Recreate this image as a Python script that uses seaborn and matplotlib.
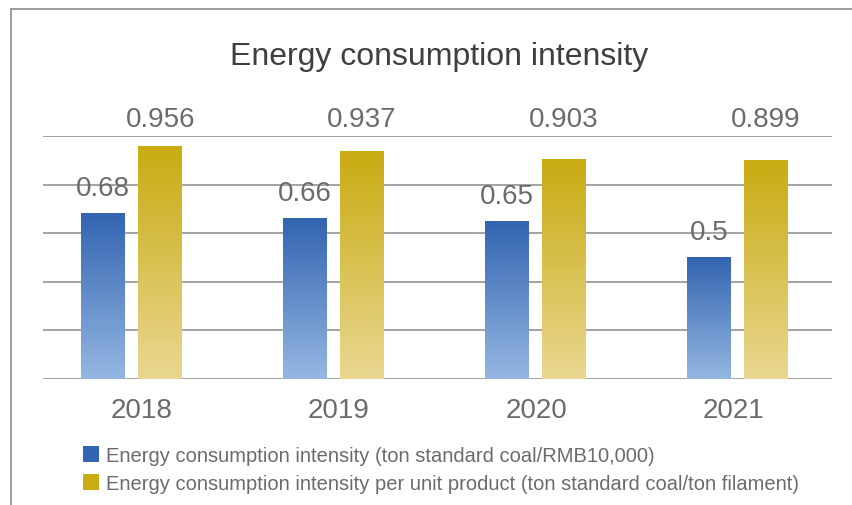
import matplotlib

matplotlib.use("Agg")
import matplotlib.pyplot as plt
import numpy as np
import pandas as pd
import seaborn as sns
from matplotlib.colors import LinearSegmentedColormap
from matplotlib.lines import Line2D
from matplotlib.patches import Patch

# ---- data
years = ["2018", "2019", "2020", "2021"]
intensity = [0.68, 0.66, 0.65, 0.5]
per_unit = [0.956, 0.937, 0.903, 0.899]
intensity_labels = ["0.68", "0.66", "0.65", "0.5"]
per_unit_labels = ["0.956", "0.937", "0.903", "0.899"]
series_names = [
    "Energy consumption intensity (ton standard coal/RMB10,000)",
    "Energy consumption intensity per unit product (ton standard coal/ton filament)",
]

df = pd.DataFrame({
    "year": years * 2,
    "value": intensity + per_unit,
    "series": [series_names[0]] * 4 + [series_names[1]] * 4,
})

sns.set_theme(style="white")
plt.rcParams["font.family"] = ["Liberation Sans", "DejaVu Sans"]

BLUE_TOP, BLUE_BOT = "#3264b0", "#95b7e2"
GOLD_TOP, GOLD_BOT = "#c9ab12", "#e9d791"
TEXT_GREY = "#6b6b6b"
GRID_GREY = "#9c9c9c"
XLIM = (-0.44, 3.47)

fig = plt.figure(figsize=(8.52, 5.06), dpi=100)
ax = fig.add_axes([0.0505, 0.249, 0.926, 0.48])

sns.barplot(data=df, x="year", y="value", hue="series", ax=ax,
            palette=[BLUE_TOP, GOLD_TOP], width=0.564, gap=0.227,
            legend=False, zorder=3)

# ---- gradient fill on each bar
grad = np.linspace(0, 1, 256).reshape(-1, 1)
cmaps = [LinearSegmentedColormap.from_list("b", [BLUE_BOT, BLUE_TOP]),
         LinearSegmentedColormap.from_list("g", [GOLD_BOT, GOLD_TOP])]
containers = ax.containers
for cont, cmap in zip(containers, cmaps):
    for bar in cont:
        x0, w, h = bar.get_x(), bar.get_width(), bar.get_height()
        bar.set_facecolor("none")
        bar.set_edgecolor("none")
        ax.imshow(grad, extent=[x0, x0 + w, 0, h], origin="lower",
                  cmap=cmap, aspect="auto", zorder=3)

ax.set_xlim(*XLIM)
ax.set_ylim(0, 1.0)
ax.set_yticks(np.arange(0, 1.01, 0.2))
ax.yaxis.grid(True, color=GRID_GREY, linewidth=1.3, zorder=0)
ax.set_yticklabels([])
ax.tick_params(axis="y", length=0)

# year labels sit in evenly split slots of the axis, like the original
span = XLIM[1] - XLIM[0]
ax.set_xticks(XLIM[0] + (np.arange(len(years)) + 0.5) / len(years) * span)
ax.set_xticklabels(years)
ax.tick_params(axis="x", length=0, labelsize=20, colors=TEXT_GREY, pad=13)
ax.set_xlabel("")
ax.set_ylabel("")
for s in ax.spines.values():
    s.set_visible(False)

# ---- value labels
ax.bar_label(containers[0], labels=intensity_labels, padding=9,
             fontsize=20, color=TEXT_GREY)
for bar, lab in zip(containers[1], per_unit_labels):
    ax.annotate(lab, xy=(bar.get_x() + bar.get_width() / 2, 1.0),
                xytext=(0, 3), textcoords="offset points",
                ha="center", va="bottom", fontsize=20, color=TEXT_GREY,
                annotation_clip=False)

fig.text(0.515, 0.8715, "Energy consumption intensity", ha="center",
         va="baseline", fontsize=23, color="#3f3f3f")

handles = [Patch(facecolor=BLUE_TOP, edgecolor="none"),
           Patch(facecolor=GOLD_TOP, edgecolor="none")]
fig.legend(handles, series_names, loc="upper left",
           bbox_to_anchor=(0.0974, 0.1166), frameon=False, fontsize=14.5,
           labelcolor=TEXT_GREY, handlelength=0.78, handleheight=0.78,
           handletextpad=0.35, labelspacing=0.45, borderaxespad=0,
           borderpad=0)

# ---- thin frame on the top and left edges
fig.add_artist(Line2D([0.013, 0.013], [0.0, 0.98], color="#8c8c8c",
                      linewidth=1.2))
fig.add_artist(Line2D([0.013, 1.0], [0.98, 0.98], color="#8c8c8c",
                      linewidth=1.2))

fig.savefig("out.png", dpi=100)
